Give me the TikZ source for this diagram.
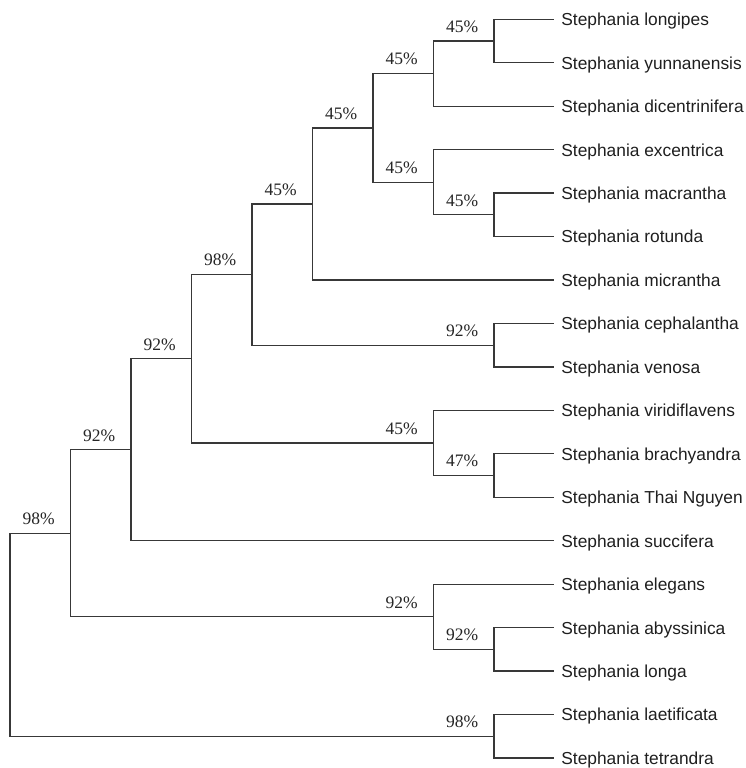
\documentclass[tikz,border=0pt]{standalone}
\usepackage{fontspec}
\setmainfont{Liberation Serif}
\newfontfamily\leaffont{Liberation Sans}
\begin{document}
\begin{tikzpicture}[x=1pt,y=-1pt,
  branch/.style={draw=black!78, line width=1.3pt, line cap=rect},
  leaf/.style={anchor=base west, inner sep=0pt, xshift=8.2pt, yshift=-6.4pt,
    font=\leaffont\fontsize{17.35}{20}\selectfont, text=black!88},
  pct/.style={anchor=base east, inner sep=0pt, xshift=-15.5pt, yshift=8.7pt,
    font=\fontsize{17.5}{20}\selectfont, text=black!85}]
\useasboundingbox[fill=white] (0,0) rectangle (746,768);
% leaf tips
\coordinate (L0) at (553,19.3);
\coordinate (L1) at (553,62.75);
\coordinate (L2) at (553,106.2);
\coordinate (L3) at (553,149.65);
\coordinate (L4) at (553,193.1);
\coordinate (L5) at (553,236.55);
\coordinate (L6) at (553,280.0);
\coordinate (L7) at (553,323.45);
\coordinate (L8) at (553,366.9);
\coordinate (L9) at (553,410.35);
\coordinate (L10) at (553,453.8);
\coordinate (L11) at (553,497.25);
\coordinate (L12) at (553,540.7);
\coordinate (L13) at (553,584.15);
\coordinate (L14) at (553,627.6);
\coordinate (L15) at (553,671.05);
\coordinate (L16) at (553,714.5);
\coordinate (L17) at (553,757.95);
% internal nodes
\coordinate (N1) at (494,41.0);
\coordinate (N2) at (433.5,73.6);
\coordinate (N3) at (494,214.8);
\coordinate (N4) at (433.5,182.2);
\coordinate (N5) at (373,127.9);
\coordinate (N6) at (312.5,204.0);
\coordinate (N7) at (494,345.2);
\coordinate (N8) at (252,274.6);
\coordinate (N9) at (494,475.5);
\coordinate (N10) at (433.5,442.9);
\coordinate (N11) at (191.5,358.8);
\coordinate (N12) at (131,449.7);
\coordinate (N13) at (494,649.3);
\coordinate (N14) at (433.5,616.7);
\coordinate (N15) at (70.5,533.2);
\coordinate (N16) at (494,736.2);
\coordinate (R) at (10,634.7);
% branches
\draw[branch] (L0) -| (N1) |- (L1);
\draw[branch] (N1) -| (N2) |- (L2);
\draw[branch] (L4) -| (N3) |- (L5);
\draw[branch] (L3) -| (N4) |- (N3);
\draw[branch] (N2) -| (N5) |- (N4);
\draw[branch] (N5) -| (N6) |- (L6);
\draw[branch] (L7) -| (N7) |- (L8);
\draw[branch] (N6) -| (N8) |- (N7);
\draw[branch] (L10) -| (N9) |- (L11);
\draw[branch] (L9) -| (N10) |- (N9);
\draw[branch] (N8) -| (N11) |- (N10);
\draw[branch] (N11) -| (N12) |- (L12);
\draw[branch] (L14) -| (N13) |- (L15);
\draw[branch] (L13) -| (N14) |- (N13);
\draw[branch] (N12) -| (N15) |- (N14);
\draw[branch] (L16) -| (N16) |- (L17);
\draw[branch] (N15) -| (R) |- (N16);
% support values
\node[pct] (p1) at (N1) {45\%};
\node[pct] (p2) at (N2) {45\%};
\node[pct] (p3) at (N3) {45\%};
\node[pct] (p4) at (N4) {45\%};
\node[pct] (p5) at (N5) {45\%};
\node[pct] (p6) at (N6) {45\%};
\node[pct] (p7) at (N7) {92\%};
\node[pct] (p8) at (N8) {98\%};
\node[pct] (p9) at (N9) {47\%};
\node[pct] (p10) at (N10) {45\%};
\node[pct] (p11) at (N11) {92\%};
\node[pct] (p12) at (N12) {92\%};
\node[pct] (p13) at (N13) {92\%};
\node[pct] (p14) at (N14) {92\%};
\node[pct] (p15) at (N15) {98\%};
\node[pct] (p16) at (N16) {98\%};
% leaf names
\node[leaf] (t0) at (L0) {Stephania longipes};
\node[leaf] (t1) at (L1) {Stephania yunnanensis};
\node[leaf] (t2) at (L2) {Stephania dicentrinifera};
\node[leaf] (t3) at (L3) {Stephania excentrica};
\node[leaf] (t4) at (L4) {Stephania macrantha};
\node[leaf] (t5) at (L5) {Stephania rotunda};
\node[leaf] (t6) at (L6) {Stephania micrantha};
\node[leaf] (t7) at (L7) {Stephania cephalantha};
\node[leaf] (t8) at (L8) {Stephania venosa};
\node[leaf] (t9) at (L9) {Stephania viridiflavens};
\node[leaf] (t10) at (L10) {Stephania brachyandra};
\node[leaf] (t11) at (L11) {Stephania Thai Nguyen};
\node[leaf] (t12) at (L12) {Stephania succifera};
\node[leaf] (t13) at (L13) {Stephania elegans};
\node[leaf] (t14) at (L14) {Stephania abyssinica};
\node[leaf] (t15) at (L15) {Stephania longa};
\node[leaf] (t16) at (L16) {Stephania laetificata};
\node[leaf] (t17) at (L17) {Stephania tetrandra};
\end{tikzpicture}
\end{document}
